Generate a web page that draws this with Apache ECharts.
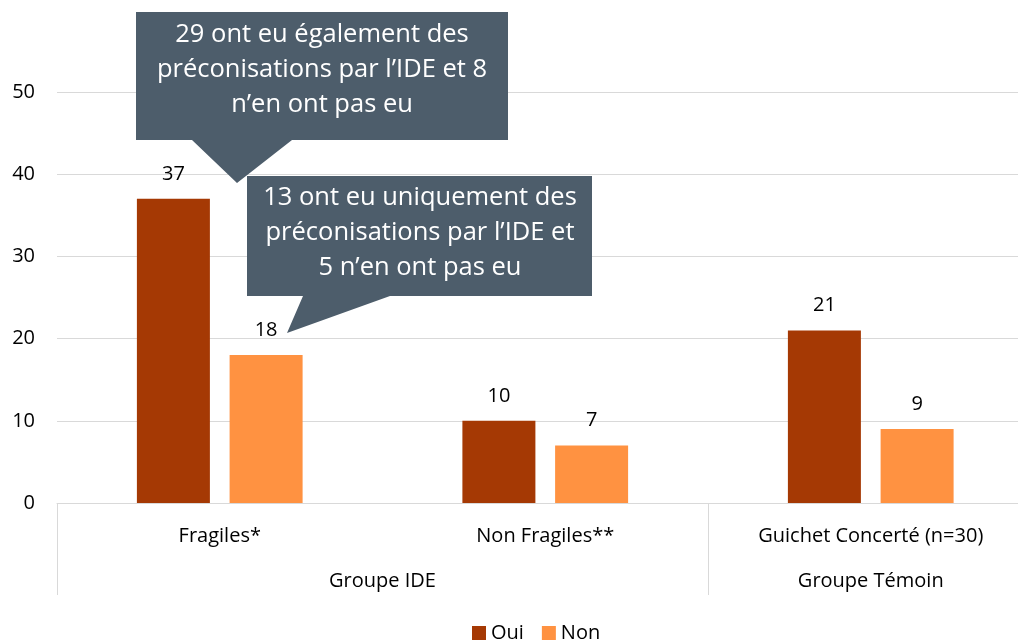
<!DOCTYPE html>
<html>
<head>
<meta charset="utf-8">
<script src="https://cdn.jsdelivr.net/npm/echarts@6/dist/echarts.min.js"></script>
<style>
    html, body { margin: 0; padding: 0; background: #fff; }
    #chart { width: 1018px; height: 641px; }
</style>
</head>
<body>
<div id="chart"></div>
<script>
// data
const categories = ['Fragiles*', 'Non Fragiles**', 'Guichet Concerté (n=30)'];
const groups = ['Groupe IDE', 'Groupe Témoin'];
const oui = [37, 10, 21];
const non = [18, 7, 9];
const yTicks = [0, 10, 20, 30, 40, 50];

const FONT = 'Open Sans';
const GREY = '#D9D9D9';
const BOX = '#4D5D6B';

const chart = echarts.init(document.getElementById('chart'));

const labelStyle = {
    show: true,
    position: 'top',
    distance: 15,
    color: '#000',
    fontFamily: FONT,
    fontSize: 20
};

const option = {
    animation: false,
    backgroundColor: '#fff',
    textStyle: { fontFamily: FONT },
    grid: {
        left: 57,
        right: -15.5,
        top: 92,
        bottom: 138,
        containLabel: false,
        outerBoundsMode: 'none'
    },
    legend: {
        top: 618,
        left: 467,
        itemWidth: 14,
        itemHeight: 14,
        itemGap: 18,
        icon: 'rect',
        textStyle: { color: '#000', fontSize: 20, fontFamily: FONT },
        data: ['Oui', 'Non']
    },
    xAxis: [
        {
            type: 'category',
            data: categories,
            axisLine: { lineStyle: { color: GREY, width: 1 } },
            axisTick: { show: false },
            axisLabel: { color: '#000', fontSize: 20, fontFamily: FONT, margin: 23, interval: 0 }
        },
        {
            type: 'value',
            position: 'bottom',
            min: 0,
            max: 3,
            axisLine: { show: false },
            splitLine: { show: false },
            axisTick: {
                show: true,
                customValues: [0, 2, 3],
                length: 92,
                lineStyle: { color: GREY, width: 1 }
            },
            axisLabel: {
                customValues: [1, 2.5],
                color: '#000',
                fontSize: 20,
                fontFamily: FONT,
                margin: 68,
                formatter: function (v) {
                    return v === 1 ? groups[0] : groups[1];
                }
            }
        }
    ],
    yAxis: {
        type: 'value',
        min: yTicks[0],
        max: yTicks[yTicks.length - 1],
        interval: 10,
        axisLine: { show: false },
        axisTick: { show: false },
        axisLabel: { color: '#000', fontSize: 20, fontFamily: FONT, margin: 22 },
        splitLine: { lineStyle: { color: GREY, width: 1 } }
    },
    series: [
        {
            name: 'Oui',
            type: 'bar',
            barWidth: 73,
            barGap: '27%',
            itemStyle: { color: '#A53904' },
            label: labelStyle,
            data: oui
        },
        {
            name: 'Non',
            type: 'bar',
            barWidth: 73,
            itemStyle: { color: '#FF9241' },
            label: labelStyle,
            data: non
        }
    ]
};

chart.setOption(option);

// callouts (annotations)
function callout(points, cx, lines, y0) {
    const els = [{
        type: 'polygon',
        shape: { points: points },
        style: { fill: BOX },
        z: 100
    }];
    lines.forEach(function (t, i) {
        els.push({
            type: 'text',
            x: cx,
            y: y0 + i * 35,
            style: {
                text: t,
                fill: '#fff',
                fontFamily: FONT,
                fontSize: 25.5,
                align: 'center',
                verticalAlign: 'middle'
            },
            z: 101
        });
    });
    return els;
}

chart.setOption({
    graphic: [].concat(
        callout([[136, 12], [508, 12], [508, 140], [292, 140], [237, 183], [192, 140], [136, 140]],
            322, ['29 ont eu également des', 'préconisations par l\u2019IDE et 8', 'n\u2019en ont pas eu'], 35),
        callout([[247, 176], [592, 176], [592, 296], [390, 296], [287, 333], [303, 296], [247, 296]],
            420, ['13 ont eu uniquement des', 'préconisations par l\u2019IDE et', '5 n\u2019en ont pas eu'], 198)
    )
});

window.addEventListener('resize', () => {
    chart.resize();
});
</script>
</body>
</html>
